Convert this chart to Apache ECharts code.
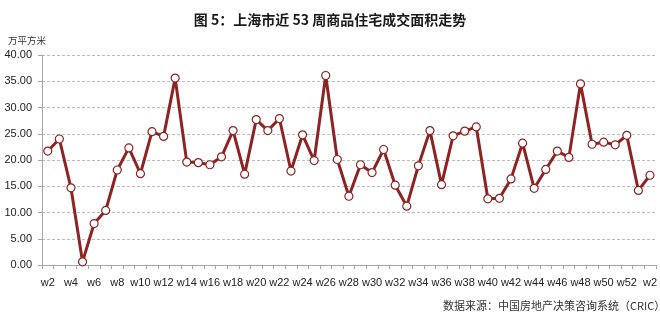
<!DOCTYPE html>
<html><head><meta charset="utf-8">
<script src="https://cdn.jsdelivr.net/npm/echarts@6/dist/echarts.min.js"></script>
<style>html,body{margin:0;padding:0;background:#fff}#c{width:660px;height:320px}</style>
</head><body><div id="c"></div>
<script>
const titleText = '图 5：上海市近 53 周商品住宅成交面积走势';
const unitText = '万平方米';
const sourceText = '数据来源：中国房地产决策咨询系统（CRIC）';
const weeks = ['w2','w3','w4','w5','w6','w7','w8','w9','w10','w11','w12','w13','w14','w15','w16','w17','w18','w19','w20','w21','w22','w23','w24','w25','w26','w27','w28','w29','w30','w31','w32','w33','w34','w35','w36','w37','w38','w39','w40','w41','w42','w43','w44','w45','w46','w47','w48','w49','w50','w51','w52','w1','w2'];
const area = [21.7,24.0,14.7,0.6,7.9,10.4,18.1,22.3,17.4,25.4,24.5,35.6,19.6,19.5,19.1,20.6,25.6,17.3,27.7,25.6,27.9,17.9,24.8,19.9,36.1,20.1,13.1,19.1,17.6,22.0,15.2,11.2,18.9,25.6,15.3,24.6,25.5,26.3,12.6,12.7,16.4,23.2,14.6,18.2,21.7,20.5,34.5,23.0,23.4,22.9,24.7,14.2,17.1];
const yTicks = {min:0, max:40, interval:5};
const FONT = '"Noto Sans CJK SC", "Noto Sans", sans-serif';
const NUMFONT = '"Liberation Sans", Arial, sans-serif';
const chart = echarts.init(document.getElementById('c'));
chart.setOption({
  animation:false,
  backgroundColor:'#fff',
  title:[
    {text:titleText,left:'center',top:8,textStyle:{fontFamily:FONT,fontSize:14,fontWeight:'bold',color:'#1a1a1a'}},
    {text:unitText,left:3,top:31,textStyle:{fontFamily:FONT,fontSize:9.5,fontWeight:'normal',color:'#333'}},
    {text:sourceText,left:438,top:295,textStyle:{fontFamily:FONT,fontSize:11,fontWeight:'normal',color:'#333'}}
  ],
  grid:{left:42,right:4,top:55,bottom:55,containLabel:false},
  xAxis:{type:'category',data:weeks,boundaryGap:true,
    axisLine:{lineStyle:{color:'#a6a6a6',width:1}},
    axisTick:{show:true,interval:0,length:4,lineStyle:{color:'#a6a6a6'}},
    axisLabel:{interval:1,fontFamily:NUMFONT,fontSize:11,color:'#222',margin:12}},
  yAxis:{type:'value',min:yTicks.min,max:yTicks.max,interval:yTicks.interval,
    axisLine:{show:true,lineStyle:{color:'#a6a6a6'}},
    axisTick:{show:true,length:4,lineStyle:{color:'#a6a6a6'}},
    axisLabel:{fontFamily:NUMFONT,fontSize:11,color:'#222',margin:10,align:'right',formatter:v=>v.toFixed(2)},
    splitLine:{lineStyle:{color:'#bdbdbd',type:[3,2],width:1}}},
  series:[{type:'line',data:area,symbol:'circle',symbolSize:8,showAllSymbol:true,
    lineStyle:{color:'#8e2323',width:3},
    itemStyle:{color:'#fff',borderColor:'#8e2323',borderWidth:1.2}}]
});
</script></body></html>
